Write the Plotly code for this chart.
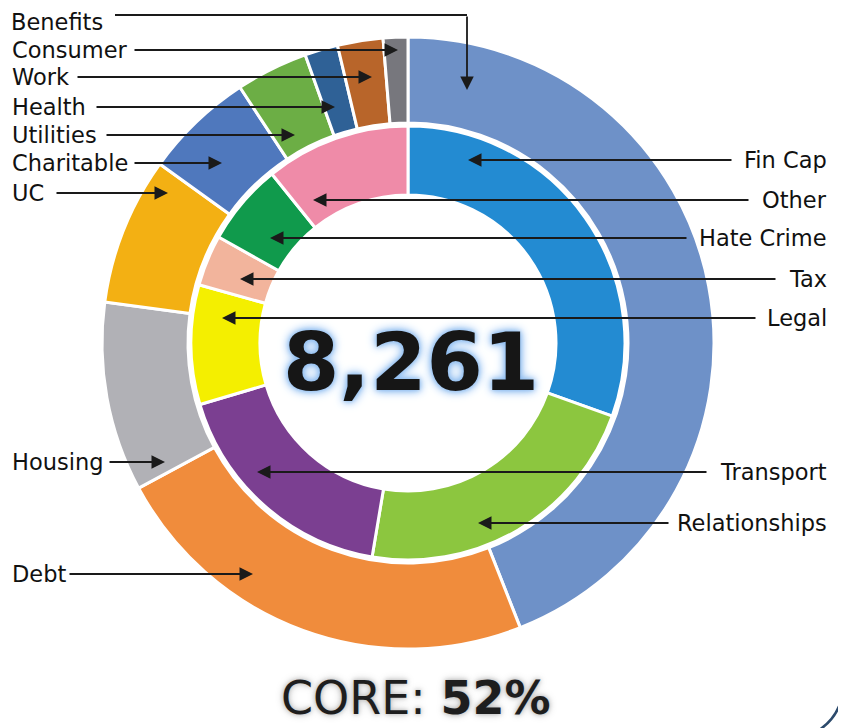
import plotly.graph_objects as go

# ---------------- data ----------------
outer_labels = ["Benefits", "Debt", "Housing", "UC", "Charitable",
                "Utilities", "Health", "Work", "Consumer"]
outer_values = [44.0, 23.1, 10.0, 7.8, 5.8, 3.8, 1.75, 2.4, 1.3]
outer_colors = ["#6e91c8", "#f08c3c", "#b1b1b6", "#f3b013", "#4f78bd",
                "#6cae45", "#2f6196", "#b8652a", "#77777d"]

inner_labels = ["Fin Cap", "Relationships", "Transport", "Legal",
                "Tax", "Hate Crime", "Other"]
inner_values = [30.5, 22.2, 17.8, 8.9, 3.8, 6.1, 10.8]
inner_colors = ["#238bd2", "#8cc63f", "#7b3f91", "#f4ef00",
                "#f2b49c", "#109a4c", "#ef8ba8"]

total_text = "8,261"
core_label = "CORE:"
core_share = "52%"

# ---------------- layout helpers (window pixels -> paper) ----------------
PAGE = 8                       # default body margin of the html page
W, H = 846 - PAGE, 728 - PAGE  # figure size so it fills the window
CX, CY = 408, 343
R_OUT, R_MID = 306, 217
OUTER_HOLE = 220 / 306
INNER_HOLE = 148 / 217


def px(x):
    return (x - PAGE) / W


def py(y):
    return 1 - (y - PAGE) / H


def dom(r):
    return dict(x=[px(CX - r), px(CX + r)], y=[py(CY + r), py(CY - r)])


fig = go.Figure()
fig.add_trace(go.Pie(
    labels=outer_labels, values=outer_values, sort=False,
    direction="clockwise", rotation=0, hole=OUTER_HOLE,
    marker=dict(colors=outer_colors, line=dict(color="white", width=3)),
    textinfo="none", domain=dom(R_OUT), showlegend=False,
))
fig.add_trace(go.Pie(
    labels=inner_labels, values=inner_values, sort=False,
    direction="clockwise", rotation=0, hole=INNER_HOLE,
    marker=dict(colors=inner_colors, line=dict(color="white", width=3)),
    textinfo="none", domain=dom(R_MID), showlegend=False,
))

# callout placement: label -> (side, y, line end near text, arrow tip x)
callouts = {
    "Consumer":   ("L", 50, 133, 398),
    "Work":       ("L", 77, 76, 372),
    "Health":     ("L", 107, 95, 335),
    "Utilities":  ("L", 135, 105, 295),
    "Charitable": ("L", 163, 133, 222),
    "UC":         ("L", 193, 55, 168),
    "Housing":    ("L", 462, 108, 165),
    "Debt":       ("L", 574, 68, 253),
    "Fin Cap":    ("R", 160, 733, 468),
    "Other":      ("R", 200, 750, 313),
    "Hate Crime": ("R", 238, 688, 270),
    "Tax":        ("R", 279, 777, 240),
    "Legal":      ("R", 318, 757, 222),
    "Transport":  ("R", 472, 708, 257),
    "Relationships": ("R", 523, 670, 478),
}

LABEL_FONT = dict(family="DejaVu Sans, Verdana, sans-serif", size=22.5, color="#111111")
LINE_COLOR = "#1a1a1a"
ARROW = dict(showarrow=True, arrowhead=2, arrowsize=1.5, arrowwidth=1.8,
             arrowcolor=LINE_COLOR, standoff=0, startstandoff=0, text="")

annotations = []
shapes = []

for lab in outer_labels + inner_labels:
    if lab not in callouts:
        continue
    side, yv, xs, xt = callouts[lab]
    annotations.append(dict(
        x=px(xt), y=py(yv), xref="paper", yref="paper",
        ax=xs - xt, ay=0, **ARROW))
    if side == "L":
        annotations.append(dict(x=px(10), y=py(yv), xref="paper", yref="paper",
                                text=lab, showarrow=False, xanchor="left",
                                yanchor="middle", font=LABEL_FONT))
    else:
        annotations.append(dict(x=px(829), y=py(yv), xref="paper", yref="paper",
                                text=lab, showarrow=False, xanchor="right",
                                yanchor="middle", font=LABEL_FONT))

# Benefits elbow connector
BEN_Y, BEN_TXT_Y, BEN_XS, BEN_XE, BEN_TIP = 15, 22, 115, 467, 90
annotations.append(dict(x=px(10), y=py(BEN_TXT_Y), xref="paper", yref="paper",
                        text=outer_labels[0], showarrow=False, xanchor="left",
                        yanchor="middle", font=LABEL_FONT, borderpad=0))
shapes.append(dict(type="line", xref="paper", yref="paper",
                   x0=px(BEN_XS), x1=px(BEN_XE), y0=py(BEN_Y), y1=py(BEN_Y),
                   line=dict(color=LINE_COLOR, width=1.8)))
annotations.append(dict(x=px(BEN_XE), y=py(BEN_TIP), xref="paper", yref="paper",
                        ax=0, ay=BEN_Y - BEN_TIP, **ARROW))

# centre total
annotations.append(dict(
    x=px(411), y=py(362), xref="paper", yref="paper", text=f"<b>{total_text}</b>",
    showarrow=False, xanchor="center", yanchor="middle",
    font=dict(family="DejaVu Sans, Verdana, sans-serif", size=81, color="#161616",
              shadow="0 0 4px #8fbdf0, 0 0 8px #8fbdf0, 0 0 12px #a9cdf5")))

# CORE share
annotations.append(dict(
    x=px(416), y=py(698), xref="paper", yref="paper",
    text=f"{core_label} <b>{core_share}</b>",
    showarrow=False, xanchor="center", yanchor="middle", borderpad=0,
    font=dict(family="DejaVu Sans, Verdana, sans-serif", size=46, color="#1e1e1e",
              shadow="0 0 4px #b5b5b5, 0 0 8px #c8c8c8")))

# card border (right edge + rounded corner)
shapes.append(dict(type="line", xref="paper", yref="paper",
                   x0=px(844), x1=px(844), y0=py(8), y1=py(682),
                   line=dict(color="#b7c7dc", width=1.5, dash="dot")))
shapes.append(dict(type="path", xref="paper", yref="paper",
                   path=f"M {px(844)},{py(682)} Q {px(843)},{py(716)} {px(816)},{py(732)}",
                   line=dict(color="#2c4a6c", width=2.5)))

fig.update_layout(
    width=W, height=H, margin=dict(l=0, r=0, t=0, b=0),
    paper_bgcolor="white", plot_bgcolor="white",
    annotations=annotations, shapes=shapes,
)

fig.write_html("out.html")
